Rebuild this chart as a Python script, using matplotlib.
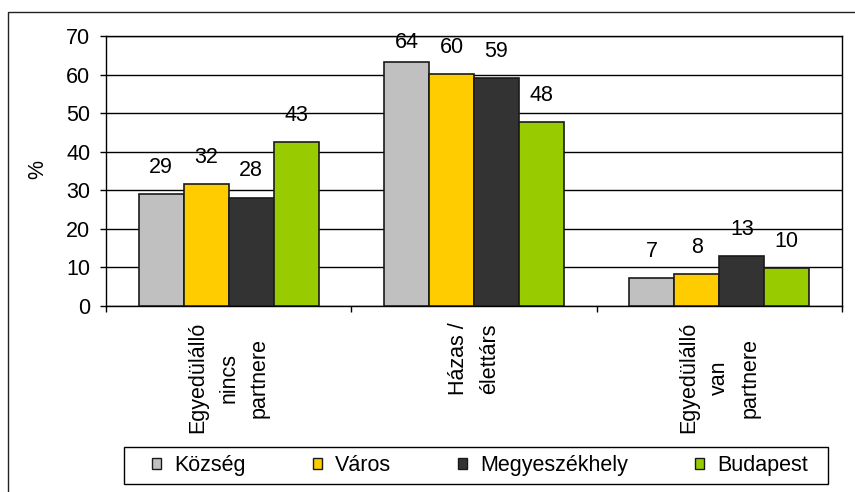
import matplotlib
matplotlib.use("Agg")
import matplotlib.pyplot as plt
from matplotlib.patches import Rectangle
import matplotlib.transforms as mtransforms
import numpy as np

plt.rcParams['font.family'] = ['Liberation Sans', 'DejaVu Sans']

categories = ["Egyedülálló\nnincs\npartnere", "Házas /\nélettárs", "Egyedülálló\nvan\npartnere"]
series = ["Község", "Város", "Megyeszékhely", "Budapest"]
kozseg = [29.0, 63.3, 7.2]
varos = [31.6, 60.1, 8.2]
megye = [28.0, 59.0, 12.9]
budapest = [42.5, 47.6, 9.8]
kozseg_lbl = [29, 64, 7]
varos_lbl = [32, 60, 8]
megye_lbl = [28, 59, 13]
budapest_lbl = [43, 48, 10]
yticks = [0, 10, 20, 30, 40, 50, 60, 70]

values = [kozseg, varos, megye, budapest]
labels = [kozseg_lbl, varos_lbl, megye_lbl, budapest_lbl]
colors = ["#C0C0C0", "#FFCC00", "#333333", "#99CC00"]

W, H = 855, 492
fig = plt.figure(figsize=(W / 100, H / 100), dpi=100)

# outer chart border
fig.patches.append(Rectangle((8 / W, -0.1), 1.2, (H - 12) / H + 0.1,
                             transform=fig.transFigure, fill=False,
                             edgecolor="#222222", lw=1.0, clip_on=False))

ax = fig.add_axes([106 / W, (H - 306) / H, 736 / W, 270 / H])
x = np.arange(len(categories))
bw = 0.1835
fs = 15.5

for i, (vals, lbls, c, name) in enumerate(zip(values, labels, colors, series)):
    pos = x + (i - 1.5) * bw
    ax.bar(pos, vals, width=bw, color=c, edgecolor="#1a1a1a", lw=1.2,
           label=name, zorder=3)
    for px, v, l in zip(pos, vals, lbls):
        ly = min(v + 7.0, 68.2)
        ax.text(px, ly, str(l), ha="center", va="center", fontsize=fs,
                zorder=4)

ax.set_xlim(-0.5, len(categories) - 0.5)
ax.set_ylim(0, 70)
ax.set_yticks(yticks)
ax.yaxis.grid(True, color="black", lw=1.0, zorder=0)
ax.set_axisbelow(True)
for s in ax.spines.values():
    s.set_color("black")
    s.set_linewidth(1.0)

ax.tick_params(axis="y", direction="out", length=4.3, width=1.0,
               labelsize=fs, pad=7)
ax.set_xticks(np.arange(-0.5, len(categories), 1.0))
ax.set_xticklabels([])
ax.tick_params(axis="x", direction="out", length=4.3, width=1.0)

# category labels (rotated, centred multi-line)
trans = mtransforms.blended_transform_factory(ax.transData, fig.transFigure)
for xi, cat in zip(x, categories):
    ax.text(xi, 1 - 322 / H, cat, transform=trans, rotation=90,
            ha="center", va="top", multialignment="center",
            fontsize=fs, linespacing=1.6)

fig.text(38 / W, 1 - 170 / H, "%", rotation=90, ha="center", va="center",
         fontsize=fs)

# legend
leg = fig.legend(loc="center", ncol=4, mode="expand",
                 bbox_to_anchor=(152 / W, 1 - 484 / H, 656 / W, 37 / H),
                 fontsize=fs, frameon=False,
                 handlelength=0.42, handleheight=0.42, handletextpad=0.6,
                 borderpad=0.0, borderaxespad=0)
for h in leg.legend_handles:
    h.set_linewidth(1.0)
fig.patches.append(Rectangle((124 / W, 1 - 484 / H), 704 / W, 37 / H,
                             transform=fig.transFigure, fill=False,
                             edgecolor="black", lw=1.0))

fig.savefig("out.png", dpi=100)
